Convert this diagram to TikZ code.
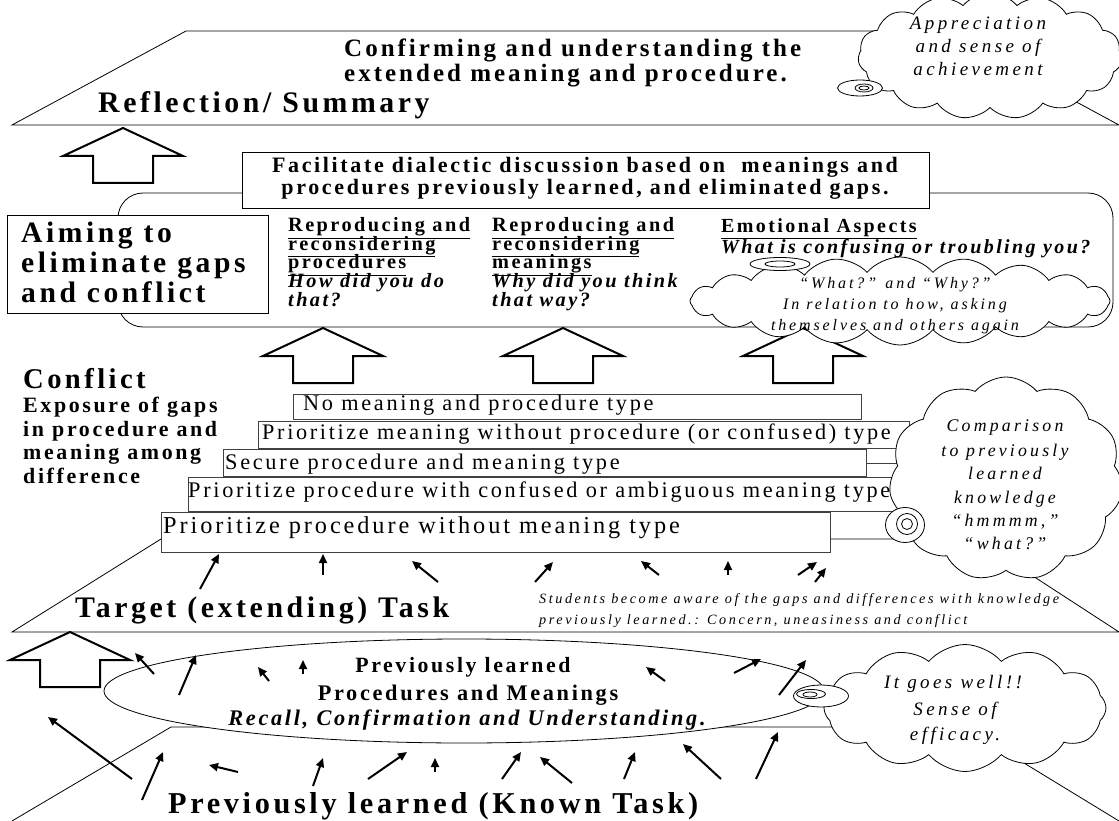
\documentclass[tikz,border=0pt]{standalone}
\usepackage{fontspec}
\setmainfont{Liberation Serif}[LetterSpace=12]
\usetikzlibrary{shapes.symbols,shapes.geometric,arrows.meta}
\newcommand\fs[1]{\fontsize{#1}{#1}\selectfont}
\newcommand\ital{\addfontfeatures{LetterSpace=18}\itshape}
\tikzset{
  txt/.style={inner sep=0pt, anchor=base west},
  ctxt/.style={inner sep=0pt, anchor=base},
  edge/.style={line width=0.8pt},
  stair/.style={draw=black!75, line width=0.8pt, fill=white},
  blk/.style={line width=2pt, fill=white, line join=miter},
  arr/.style={line width=2pt, -{Triangle[length=9pt,width=8pt]}},
  cloudy/.style={cloud, draw, fill=white, line width=0.8pt, inner sep=0pt, cloud puff arc=100},
  bub/.style={ellipse, draw, fill=white, line width=0.8pt, inner sep=0pt},
  uparrow/.pic={\draw[blk] (0,0) -- (60,28) -- (30,28) -- (30,55) -- (-30,55) -- (-30,28) -- (-60,28) -- cycle;}
}
\begin{document}
\begin{tikzpicture}[x=1pt,y=-1pt]
\useasboundingbox[fill=white] (0,0) rectangle (1119,821);

% ---------- top band: reflection ----------
\draw[edge] (12,125) -- (186,31) -- (945,31) -- (1119,125) -- cycle;
\node[txt] (conf1) at (344,57) {\fs{25}\bfseries Confirming and understanding the};
\node[txt] (conf2) at (344,82) {\fs{25}\bfseries extended meaning and procedure.};
\node[txt] (refl) at (98,113) {\fs{29.8}\bfseries Reflection/ Summary};

\node[cloudy, cloud puffs=15, aspect=2.1, minimum width=264pt, minimum height=126pt] (appc) at (990,56) {};
\node[bub, minimum width=45pt, minimum height=16pt] (appb1) at (860,88) {};
\node[bub, minimum width=18pt, minimum height=8pt] (appb2) at (864,88) {};
\node[bub, minimum width=10pt, minimum height=4pt] (appb3) at (864,88) {};
\node[ctxt] (ap1) at (978,30) {\fs{19}\ital Appreciation};
\node[ctxt] (ap2) at (978,53) {\fs{19}\ital and sense of};
\node[ctxt] (ap3) at (978,76) {\fs{19}\ital achievement};

\pic at (123,128) {uparrow};

% ---------- aiming band ----------
\draw[edge, rounded corners=25pt] (118,193) rectangle (1113,327);
\draw[edge, fill=white] (242,152) rectangle (929,208);
\node[ctxt] (fac1) at (585,173) {\fs{22}\bfseries Facilitate dialectic discussion based on~ meanings and};
\node[ctxt] (fac2) at (585,195) {\fs{22}\bfseries procedures previously learned, and eliminated gaps.};

\draw[edge, fill=white] (7,215) rectangle (268,313);
\node[txt] (aim1) at (21,243) {\fs{29.6}\bfseries Aiming to};
\node[txt] (aim2) at (21,272) {\fs{29.6}\bfseries eliminate gaps};
\node[txt] (aim3) at (21,302) {\fs{29.6}\bfseries and conflict};

\node[txt] (p1) at (288,232) {\fs{20.3}\bfseries\underline{Reproducing and}};
\node[txt] (p2) at (288,250.5) {\fs{20.3}\bfseries\underline{reconsidering}};
\node[txt] (p3) at (288,269) {\fs{20.3}\bfseries\underline{procedures}};
\node[txt] (p4) at (288,287.5) {\fs{20.3}\bfseries\itshape How did you do};
\node[txt] (p5) at (288,306) {\fs{20.3}\bfseries\itshape that?};

\node[txt] (m1) at (492,232) {\fs{20.3}\bfseries\underline{Reproducing and}};
\node[txt] (m2) at (492,250.5) {\fs{20.3}\bfseries\underline{reconsidering}};
\node[txt] (m3) at (492,269) {\fs{20.3}\bfseries\underline{meanings}};
\node[txt] (m4) at (492,287.5) {\fs{20.3}\bfseries\itshape Why did you think};
\node[txt] (m5) at (492,306) {\fs{20.3}\bfseries\itshape that way?};

\node[txt] (e1) at (721,233) {\fs{20}\bfseries\underline{Emotional Aspects}};
\node[txt] (e2) at (721,253) {\fs{20}\bfseries\itshape What is confusing or troubling you?};

\pic at (323,328) {uparrow};
\pic at (563,328) {uparrow};
\pic at (803,328) {uparrow};

\node[cloudy, cloud puffs=20, aspect=5, minimum width=420pt, minimum height=88pt] (emoc) at (900,301) {};
\node[bub, minimum width=60pt, minimum height=13pt] (emob1) at (780,264) {};
\node[bub, minimum width=30pt, minimum height=6pt] (emob2) at (780,264) {};
\node[ctxt] (w1) at (895,288) {\fs{16}\ital “What?” and “Why?”};
\node[ctxt] (w2) at (895,309) {\fs{16}\ital In relation to how, asking};
\node[ctxt] (w3) at (895,330) {\fs{16}\ital themselves and others again};

% ---------- conflict band ----------
\node[txt] (conf) at (23,388) {\fs{28.6}\bfseries Conflict};
\node[txt] (ex1) at (23,412) {\fs{21.9}\bfseries Exposure of gaps};
\node[txt] (ex2) at (23,436) {\fs{21.9}\bfseries in procedure and};
\node[txt] (ex3) at (23,459) {\fs{21.9}\bfseries meaning among};
\node[txt] (ex4) at (23,483) {\fs{21.9}\bfseries difference};

\draw[edge] (12,632) -- (161,539) -- (976,539) -- (1119,632) -- cycle;
\draw[edge, draw=black!75] (866,463) -- (950,463);

\draw[stair] (293,394) rectangle (861,419);
\node[txt] (s1) at (303,410) {\fs{22.3}No meaning and procedure type};
\draw[stair] (258,421) rectangle (909,448);
\node[txt] (s2) at (262,439) {\fs{22.2}Prioritize meaning without procedure (or confused) type};
\draw[stair] (223,449) rectangle (866,476);
\node[txt] (s3) at (225,469) {\fs{22.3}Secure procedure and meaning type};
\draw[stair] (188,477) rectangle (905,511);
\node[txt] (s4) at (188,497) {\fs{22.3}Prioritize procedure with confused or ambiguous meaning type};
\draw[stair] (161,512) rectangle (830,552);
\node[txt] (s5) at (163,533) {\fs{24.3}Prioritize procedure without meaning type};

\node[cloudy, cloud puffs=11, aspect=1.15, minimum width=234pt, minimum height=204pt] (cmpc) at (1006,479) {};
\node[bub, minimum width=39pt, minimum height=35pt] (cmpb1) at (905,525) {};
\node[bub, minimum width=21pt, minimum height=21pt] (cmpb2) at (907,524) {};
\node[bub, minimum width=11pt, minimum height=11pt] (cmpb3) at (907,524) {};
\node[ctxt] (c1) at (1005,431) {\fs{17.8}\ital Comparison};
\node[ctxt] (c2) at (1005,456) {\fs{17.8}\ital to previously};
\node[ctxt] (c3) at (1005,479) {\fs{17.8}\ital learned};
\node[ctxt] (c4) at (1005,503) {\fs{17.8}\ital knowledge};
\node[ctxt] (c5) at (1005,526) {\fs{17.8}\ital “hmmmm,”};
\node[ctxt] (c6) at (1005,549) {\fs{17.8}\ital “what?”};

\node[txt] (tgt) at (75,617) {\fs{29.8}\bfseries Target (extending) Task};
\node[txt] (st1) at (539,603) {\fs{14.2}\ital Students become aware of the gaps and differences with knowledge};
\node[txt] (st2) at (539,624) {\fs{14.2}\ital previously learned.: Concern, uneasiness and conflict};

\draw[arr] (200,589) -- (219,554);
\draw[arr] (323,575) -- (323,554);
\draw[arr] (438,582) -- (412,561);
\draw[arr] (535,582) -- (553,562);
\draw[arr] (659,575) -- (641,561);
\draw[arr] (728,575) -- (728,561);
\draw[arr] (798,575) -- (817,562);
\draw[arr] (815,582) -- (826,568);

% ---------- known task band ----------
\draw[edge] (12,821) -- (171,727) -- (965,727) -- (1119,821);
\pic at (70,632) {uparrow};

\node[bub, minimum width=720pt, minimum height=104pt] (known) at (464,691) {};
\node[ctxt] (k1) at (463,672) {\fs{21.8}\bfseries Previously learned};
\node[ctxt] (k2) at (468,700) {\fs{22.3}\bfseries Procedures and Meanings};
\node[ctxt] (k3) at (467,725) {\fs{22.3}\bfseries\itshape Recall, Confirmation and Understanding.};

\node[cloudy, cloud puffs=12, aspect=2.2, minimum width=282pt, minimum height=127pt] (goc) at (965,708) {};
\node[bub, minimum width=55pt, minimum height=22pt] (gob1) at (821,696) {};
\node[bub, minimum width=29pt, minimum height=9pt] (gob2) at (811,694) {};
\node[bub, minimum width=14pt, minimum height=5pt] (gob3) at (810,694.5) {};
\node[ctxt] (g1) at (953,688) {\fs{19}\ital It goes well!!};
\node[ctxt] (g2) at (955,715) {\fs{19}\ital Sense of};
\node[ctxt] (g3) at (955,740) {\fs{19}\ital efficacy.};

\draw[arr] (154,674) -- (135,653);
\draw[arr] (179,695) -- (196,655);
\draw[arr] (269,681) -- (258,667);
\draw[arr] (303,674) -- (303,660);
\draw[arr] (665,681) -- (646,667);
\draw[arr] (734,673) -- (761,659);
\draw[arr] (779,695) -- (806,660);

\draw[arr] (132,779) -- (48,717);
\draw[arr] (142,800) -- (163,752);
\draw[arr] (238,772) -- (209,765);
\draw[arr] (313,786) -- (323,758);
\draw[arr] (368,779) -- (407,752);
\draw[arr] (435,772) -- (435,758);
\draw[arr] (502,779) -- (521,752);
\draw[arr] (572,783) -- (540,757);
\draw[arr] (624,779) -- (635,752);
\draw[arr] (721,779) -- (683,744);
\draw[arr] (756,779) -- (778,732);

\node[txt] (known-t) at (168,813) {\fs{30.3}\bfseries Previously learned (Known Task)};
\end{tikzpicture}
\end{document}
